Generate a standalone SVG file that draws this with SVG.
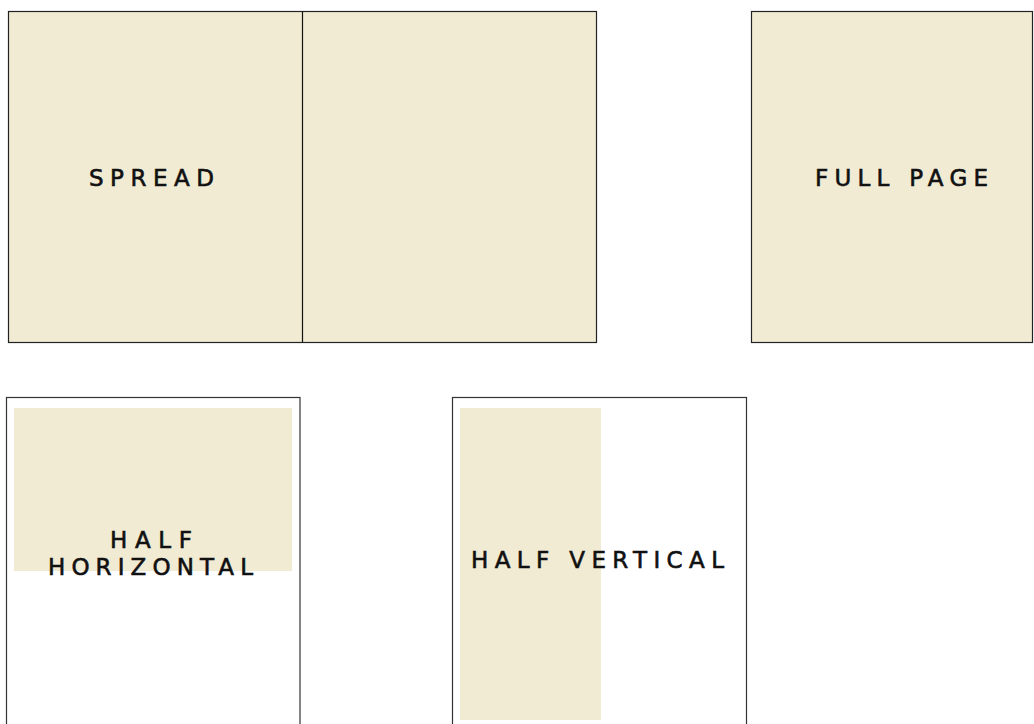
<svg xmlns="http://www.w3.org/2000/svg" width="1034" height="724" viewBox="0 0 1034 724">
<style>
.page{fill:#F1EBD4;stroke:#222;stroke-width:1.2}
.frame{fill:#fff;stroke:#333;stroke-width:1.2}
.ad{fill:#F1EBD4}
.lbl{font-family:"DejaVu Sans","Liberation Sans",sans-serif;font-size:23px;fill:#111;stroke:#111;stroke-width:0.6}
</style>
<rect width="1034" height="724" fill="#fff"/>
<g id="spread">
<rect class="page" x="8.5" y="11.5" width="588" height="331"/>
<line x1="302.5" y1="11.5" x2="302.5" y2="342.5" stroke="#111" stroke-width="1.2"/>
<text class="lbl" x="89" y="186" textLength="125" lengthAdjust="spacing">SPREAD</text>
</g>
<g id="full-page">
<rect class="page" x="751.5" y="11.5" width="281" height="331"/>
<text class="lbl" x="815" y="186" textLength="173" lengthAdjust="spacing">FULL PAGE</text>
</g>
<g id="half-horizontal">
<rect class="frame" x="6.5" y="397.5" width="293.5" height="340"/>
<rect class="ad" x="14" y="408" width="278" height="163"/>
<text class="lbl" x="110" y="548" textLength="82" lengthAdjust="spacing">HALF</text>
<text class="lbl" x="48" y="575" textLength="205" lengthAdjust="spacing">HORIZONTAL</text>
</g>
<g id="half-vertical">
<rect class="frame" x="452.5" y="397.5" width="294" height="340"/>
<rect class="ad" x="460" y="408" width="141" height="312"/>
<text class="lbl" x="471" y="567.5" textLength="253" lengthAdjust="spacing">HALF VERTICAL</text>
</g>
<g id="connectors"/>
</svg>
